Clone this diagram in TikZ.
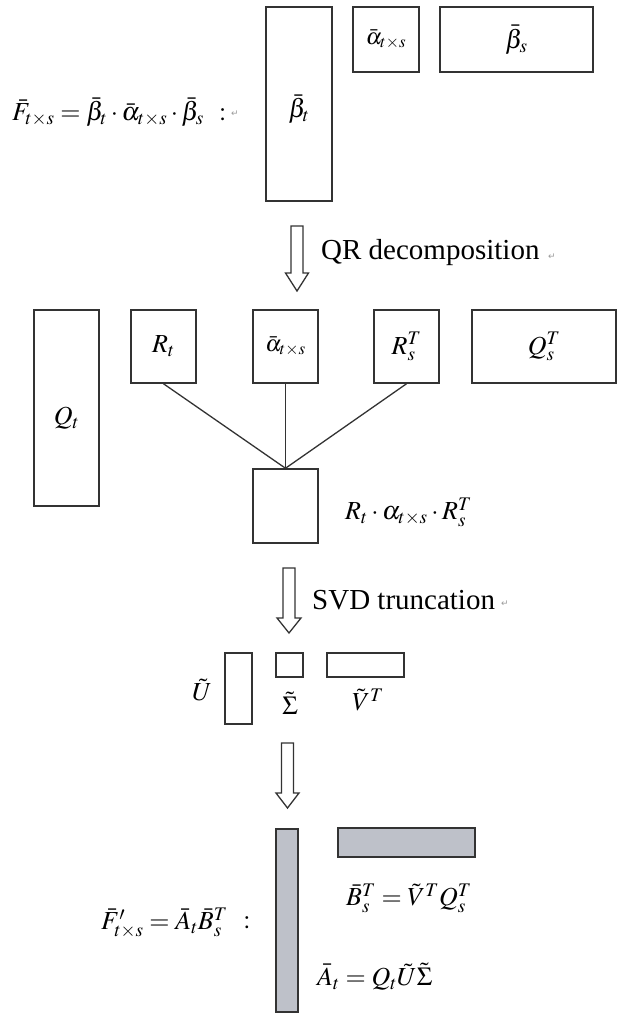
\documentclass[tikz,border=0pt]{standalone}
\usepackage{mathptmx}
\usepackage{fontspec}
\setmainfont{Liberation Serif}
\newfontfamily\symfont{DejaVu Sans}
\definecolor{linec}{HTML}{333333}
\definecolor{grayfill}{HTML}{BEC1C9}
\definecolor{markc}{HTML}{9A9A9A}
\tikzset{
  mat/.style={draw=linec, line width=1.5pt, rectangle, inner sep=0pt, minimum width=#1},
  mat/.default=10,
  graymat/.style={mat=#1, fill=grayfill},
  conn/.style={draw=linec, line width=1.3pt},
  arrowline/.style={draw=linec, line width=1.3pt, fill=white},
  lbl/.style={inner sep=0pt, font=\fontsize{26}{30}\selectfont},
  albl/.style={inner sep=0pt, font=\fontsize{23}{28}\selectfont},
  bigtext/.style={inner sep=0pt, anchor=west, font=\fontsize{29}{34}\selectfont},
  formula/.style={inner sep=0pt, anchor=west, font=\fontsize{26}{30}\selectfont},
  pmark/.style={inner sep=0pt, text=markc, font=\symfont\fontsize{9}{10}\selectfont},
  pics/downarr/.style n args={3}{code={
    \draw[arrowline] (-6,0) -- (-6,#1) -- (-#3,#1) -- (0,#2) -- (#3,#1) -- (6,#1) -- (6,0) -- cycle;}}
}
\begin{document}
\begin{tikzpicture}[x=1pt, y=-1pt]
\useasboundingbox (0,0) rectangle (619,1013);
% --- top row
\node[formula] (ftop) at (12,112) {$\bar{F}_{t\times s}=\bar{\beta}_t\cdot\bar{\alpha}_{t\times s}\cdot\bar{\beta}_s\ \,:$};
\node[pmark] (pm1) at (235,114) {↵};
\node[mat=66, minimum height=194] (bt) at (299,104) {};
\node[lbl] at ([yshift=-5pt]bt.center) {$\bar{\beta}_t$};
\node[mat=66, minimum height=65] (at) at (386,39.5) {};
\node[albl] at (at) {$\bar{\alpha}_{t\times s}$};
\node[mat=153, minimum height=65] (bs) at (516.5,39.5) {};
\node[lbl] at (bs) {$\bar{\beta}_s$};
% --- QR arrow
\pic at (297,226) {downarr={47}{65}{11.5}};
\node[bigtext] (qr) at (321,253) {QR decomposition};
\node[pmark] (pm2) at (552,257) {↵};
% --- second row
\node[mat=65, minimum height=196] (Qt) at (66.5,408) {};
\node[lbl] at ([yshift=-10pt]Qt.center) {$Q_t$};
\node[mat=65, minimum height=73] (Rt) at (163.5,346.5) {};
\node[lbl] at (Rt) {$R_t$};
\node[mat=65, minimum height=73] (am) at (285.5,346.5) {};
\node[albl] at (am) {$\bar{\alpha}_{t\times s}$};
\node[mat=65, minimum height=73] (Rs) at (406.5,346.5) {};
\node[lbl] at (Rs) {$R_s^T$};
\node[mat=144, minimum height=73] (Qs) at (544,346.5) {};
\node[lbl] at (Qs) {$Q_s^T$};
% --- product square
\node[mat=65, minimum height=74] (sq) at (285.5,506) {};
\draw[conn] (Rt.south) -- (sq.north);
\draw[conn] (am.south) -- (sq.north);
\draw[conn] (Rs.south) -- (sq.north);
\node[formula] (prod) at (345,512) {$R_t\cdot\alpha_{t\times s}\cdot R_s^T$};
% --- SVD arrow
\pic at (289,568) {downarr={50}{65}{12}};
\node[bigtext] (svd) at (312,600) {SVD truncation};
\node[pmark] (pm3) at (505,604) {↵};
% --- SVD factors
\node[mat=27, minimum height=71] (U) at (238.5,688.5) {};
\node[lbl] (Ul) at (202,690) {$\tilde{U}$};
\node[mat=27, minimum height=24] (S) at (289.5,665) {};
\node[lbl] (Sl) at (290,703) {$\tilde{\Sigma}$};
\node[mat=77, minimum height=24] (V) at (365.5,665) {};
\node[lbl] (Vl) at (368,700) {$\tilde{V}^T$};
% --- final arrow
\pic at (287.5,743) {downarr={50}{65}{11.5}};
% --- final factors
\node[graymat=22, minimum height=183] (A) at (287,920.5) {};
\node[graymat=137, minimum height=29] (B) at (406.5,842.5) {};
\node[formula] (fb) at (346,898) {$\bar{B}_s^T=\tilde{V}^TQ_s^T$};
\node[formula] (fa) at (317,977) {$\bar{A}_t=Q_t\tilde{U}\tilde{\Sigma}$};
\node[formula] (ff) at (101,923) {$\bar{F}'_{t\times s}=\bar{A}_t\bar{B}_s^T$};
\node[formula, anchor=center] (fc) at (247,923) {$:$};
\end{tikzpicture}
\end{document}
